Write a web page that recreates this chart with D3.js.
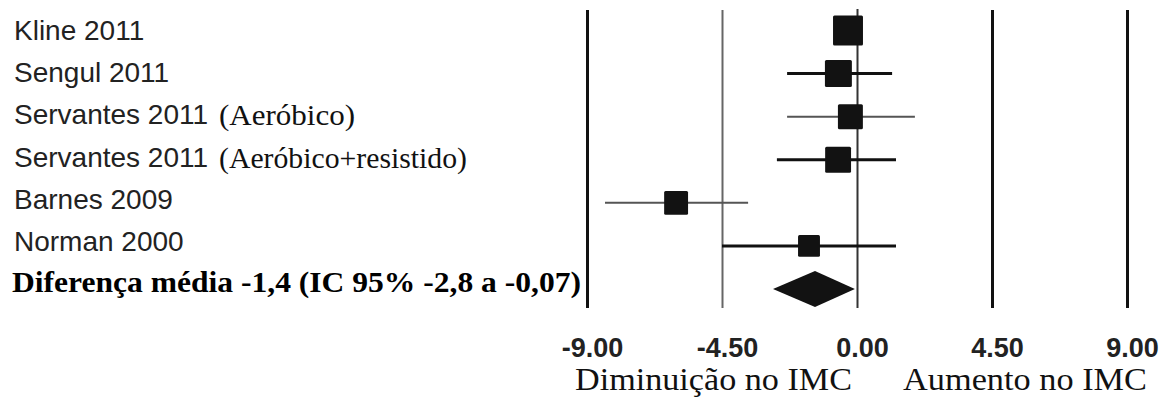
<!DOCTYPE html>
<html>
<head>
<meta charset="utf-8">
<script src="https://cdn.jsdelivr.net/npm/d3@7/dist/d3.min.js"></script>
<style>
  html, body { margin: 0; padding: 0; background: #fff; }
  svg { display: block; }
</style>
</head>
<body>
<svg id="chart" width="1170" height="401"></svg>
<script>
// Forest plot: mean difference in BMI (IMC), exercise vs control
const studies     = ["Kline 2011", "Sengul 2011", "Servantes 2011", "Servantes 2011", "Barnes 2009", "Norman 2000"];
const subgroups   = ["", "", "(Aeróbico)", "(Aeróbico+resistido)", "", ""];
const meanDiff    = [-0.30, -0.62, -0.22, -0.63, -6.03, -1.60];
const ciLow       = [-0.60, -2.33, -2.33, -2.67, -8.40, -4.50];
const ciHigh      = [ 0.00,  1.17,  1.93,  1.30, -3.63,  1.30];
const weights     = [22.6, 18.3, 15.7, 16.9, 14.4, 12.1];

const pooledLabel    = "Diferença média -1,4 (IC 95% -2,8 a -0,07)";
const pooledEstimate = [-2.8, -1.4, -0.07];   // low, mean, high

const tickValues  = [-9, -4.5, 0, 4.5, 9];
const sideLabels  = ["Diminuição no IMC", "Aumento no IMC"];

const svg = d3.select("#chart");
const SANS = "'Liberation Sans', Arial, Helvetica, sans-serif";
const SERIF = "'Liberation Serif', 'Times New Roman', serif";

const plotTop = 10, plotBottom = 308;

const x = d3.scaleLinear().domain([-9, 9]).range([587, 1127]);
const rows = d3.range(studies.length + 1);
const y = d3.scalePoint().domain(rows).range([30.5, 289]);
const side = d3.scaleSqrt().domain([0, 25]).range([0, 31.5]);

// vertical reference lines and tick labels
const gridStyle = {
  "-9":  { w: 3,   c: "#111" },
  "-4.5":{ w: 2,   c: "#666" },
  "0":   { w: 2,   c: "#333" },
  "4.5": { w: 3,   c: "#111" },
  "9":   { w: 3,   c: "#111" }
};

const axis = d3.axisBottom(x)
  .tickValues(tickValues)
  .tickFormat(d => d.toFixed(2))
  .tickSizeInner(-(plotBottom - plotTop))
  .tickSizeOuter(0)
  .tickPadding(30);

const gAxis = svg.append("g")
  .attr("transform", `translate(0,${plotBottom})`)
  .call(axis);
gAxis.select(".domain").remove();
gAxis.selectAll(".tick line")
  .attr("stroke", d => gridStyle[String(d)].c)
  .attr("stroke-width", d => gridStyle[String(d)].w)
  .attr("y2", d => d === 0 ? -(plotBottom - plotTop + 1) : -(plotBottom - plotTop));
gAxis.selectAll(".tick text")
  .attr("font-family", SANS)
  .attr("font-size", 27)
  .attr("font-weight", "bold")
  .attr("fill", "#222")
  .attr("dx", 5);
gAxis.attr("font-family", null).attr("font-size", null);

// confidence intervals
const ciStyle = [
  { w: 3, c: "#111" }, { w: 3, c: "#111" }, { w: 2, c: "#555" },
  { w: 3, c: "#111" }, { w: 2, c: "#555" }, { w: 3, c: "#111" }
];
svg.append("g").selectAll("line")
  .data(studies.map((s, i) => i))
  .join("line")
  .attr("x1", i => x(ciLow[i]))
  .attr("x2", i => x(ciHigh[i]))
  .attr("y1", i => y(i))
  .attr("y2", i => y(i))
  .attr("stroke", i => ciStyle[i].c)
  .attr("stroke-width", i => ciStyle[i].w);

// study estimates, square area by weight
svg.append("g").selectAll("rect")
  .data(studies.map((s, i) => i))
  .join("rect")
  .attr("x", i => x(meanDiff[i]) - side(weights[i]) / 2)
  .attr("y", i => y(i) - side(weights[i]) / 2)
  .attr("width", i => side(weights[i]))
  .attr("height", i => side(weights[i]))
  .attr("rx", 1.5)
  .attr("fill", "#121212");

// pooled estimate diamond
const pr = studies.length;
const dh = 18;
const diamond = [
  [x(pooledEstimate[0]), y(pr)],
  [x(pooledEstimate[1]), y(pr) - dh],
  [x(pooledEstimate[2]), y(pr)],
  [x(pooledEstimate[1]), y(pr) + dh]
];
svg.append("path")
  .attr("d", d3.line()(diamond) + "Z")
  .attr("fill", "#121212");

// study labels
const labelBase = i => y(i) + 9 - 0.7 * i;
const labels = svg.append("g");
studies.forEach((s, i) => {
  labels.append("text")
    .attr("x", 14)
    .attr("y", labelBase(i))
    .attr("font-family", SANS)
    .attr("font-size", 28)
    .attr("fill", "#222")
    .text(s);
});
const subX = [0, 0, 219, 219, 0, 0];
const subW = [0, 0, 136, 248, 0, 0];
subgroups.forEach((s, i) => {
  if (!s) return;
  labels.append("text")
    .attr("x", subX[i])
    .attr("y", labelBase(i) + 1)
    .attr("font-family", SERIF)
    .attr("font-size", 28.5)
    .attr("fill", "#111")
    .attr("textLength", subW[i])
    .attr("lengthAdjust", "spacingAndGlyphs")
    .text(s);
});

labels.append("text")
  .attr("x", 12)
  .attr("y", 292)
  .attr("font-family", SERIF)
  .attr("font-size", 29)
  .attr("font-weight", "bold")
  .attr("fill", "#000")
  .attr("textLength", 569)
  .attr("lengthAdjust", "spacingAndGlyphs")
  .text(pooledLabel);

// direction captions under the axis
const capCenter = [713.5, 1025];
const capWidth = [277, 244];
sideLabels.forEach((s, i) => {
  svg.append("text")
    .attr("x", capCenter[i] - capWidth[i] / 2)
    .attr("y", 390)
    .attr("font-family", SERIF)
    .attr("font-size", 31.5)
    .attr("fill", "#111")
    .attr("textLength", capWidth[i])
    .attr("lengthAdjust", "spacingAndGlyphs")
    .text(s);
});
</script>
</body>
</html>
